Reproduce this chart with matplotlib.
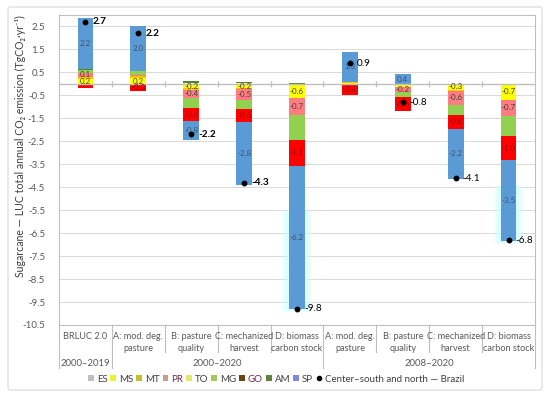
import numpy as np
import matplotlib
matplotlib.use("Agg")
import matplotlib.pyplot as plt
from matplotlib.patches import Patch, FancyBboxPatch, Rectangle
from matplotlib.lines import Line2D
import matplotlib.transforms as mtransforms

plt.rcParams['font.family'] = ['Lato', 'DejaVu Sans']

# ---------------- data ----------------
categories = ["BRLUC 2.0", "A: mod. deg.\npasture", "B: pasture\nquality",
              "C: mechanized\nharvest", "D: biomass\ncarbon stock",
              "A: mod. deg.\npasture", "B: pasture\nquality",
              "C: mechanized\nharvest", "D: biomass\ncarbon stock"]
periods = ["2000–2019", "2000–2020", "2008–2020"]
period_ranges = [(0, 0), (1, 4), (5, 8)]

series_names = ["ES", "MS", "MT", "PR", "TO", "MG", "GO", "AM", "SP"]
ES = [0, 0, 0, 0, 0, 0, 0, 0, 0]
MS = [0.22, 0.24, -0.2, -0.2, -0.62, 0.03, -0.12, -0.27, -0.68]
MT = [0.1, 0.1, -0.05, -0.03, 0, 0.05, 0, -0.03, 0]
PR = [0.14, 0.05, -0.38, -0.47, -0.72, -0.05, -0.22, -0.6, -0.72]
TO = [0, 0, 0.06, 0.05, 0, 0, 0, 0, 0]
MG = [0.14, 0.15, -0.4, -0.4, -1.1, 0, -0.25, -0.45, -0.88]
GO = [-0.2, -0.33, -0.58, -0.56, -1.12, -0.42, -0.6, -0.6, -1.04]
AM = [0.05, 0.03, 0.08, 0.05, 0.05, 0, 0, 0, 0]
SP = [2.24, 1.96, -0.84, -2.76, -6.24, 1.32, 0.42, -2.18, -3.52]
totals = [2.7, 2.2, -2.2, -4.3, -9.8, 0.9, -0.8, -4.1, -6.8]
yticks = [2.5, 1.5, 0.5, -0.5, -1.5, -2.5, -3.5, -4.5, -5.5, -6.5, -7.5, -8.5, -9.5, -10.5]

series_vals = [ES, MS, MT, PR, TO, MG, GO, AM, SP]
bar_colors = ["#A5A5A5", "#FFFF00", "#FFC000", "#FF7C80", "#FFFF99",
              "#92D050", "#FF0000", "#548235", "#5B9BD5"]
legend_colors = ["#BFBFBF", "#F2F22A", "#C4BE2E", "#C2A08C", "#E2E866",
                 "#A3C85E", "#6B4412", "#5F8040", "#8585E0"]
legend_text_colors = ["#404040", "#404040", "#404040", "#6A2A4A", "#404040",
                      "#404040", "#6A2A4A", "#404040", "#404040"]
labelled = {"MS": ("#404040", 0.13), "PR": ("#404040", 0.13),
            "GO": ("#A00000", 0.3), "SP": ("#3F5470", 0.13)}

# ---------------- figure ----------------
fig = plt.figure(figsize=(5.5, 3.99), dpi=100)
border = FancyBboxPatch((8 / 550, 9 / 399), 534 / 550, 383 / 399,
                        boxstyle="round,pad=0,rounding_size=0.005",
                        transform=fig.transFigure, facecolor="none",
                        edgecolor="#D9D9D9", linewidth=0.8, zorder=-5)
fig.patches.append(border)
ax = fig.add_axes([59 / 550, 1 - 325 / 399, (535 - 59) / 550, (325 - 15) / 399])
ax.set_facecolor("none")

x = np.arange(len(categories))
width = 0.3
ax.set_xlim(-0.5, len(categories) - 0.5)
ax.set_ylim(-10.5, 3.0)

# glow behind the D-bars (soft light cyan)
neg_cum = np.zeros(len(x))
for vals in series_vals:
    v = np.array(vals, dtype=float)
    neg_cum += np.where(v < 0, v, 0)
for i in [4, 8]:
    bottom = neg_cum[i]
    h = 0.7 * abs(SP[i])
    for k, a in zip([0.28, 0.2, 0.12], [0.25, 0.35, 0.45]):
        ax.add_patch(Rectangle((x[i] - width / 2 - k * 0.45, bottom - 0.12 * k / 0.28),
                               width + k * 0.9, h, facecolor="#CFFFFF",
                               edgecolor="none", alpha=a, zorder=1))

# gridlines
for t in yticks:
    ax.axhline(t, color="#D9D9D9", linewidth=0.7, zorder=0.5)

# stacked bars
pos_b = np.zeros(len(x))
neg_b = np.zeros(len(x))
for name, vals, col in zip(series_names, series_vals, bar_colors):
    v = np.array(vals, dtype=float)
    bottoms = np.where(v >= 0, pos_b, neg_b)
    ax.bar(x, v, width, bottom=bottoms, color=col, edgecolor="none", zorder=2)
    if name in labelled:
        tcol, thr = labelled[name]
        for xi, vi, bi in zip(x, v, bottoms):
            if abs(vi) >= thr:
                ax.text(xi, bi + vi / 2, f"{vi:.1f}", ha="center", va="center",
                        fontsize=5.8, color=tcol, zorder=4)
    pos_b += np.where(v >= 0, v, 0)
    neg_b += np.where(v < 0, v, 0)

# zero axis line with tick marks
ax.axhline(0, color="#BFBFBF", linewidth=1.0, zorder=3)
bounds = np.arange(-0.5, len(categories) + 0.5, 1.0)
ax.vlines(bounds[1:-1], -0.13, 0.13, color="#BFBFBF", linewidth=0.9, zorder=3)

# totals
for i, (xi, t) in enumerate(zip(x, totals)):
    ax.plot(xi, t, "o", color="black", markersize=3.2, zorder=5)
    ax.text(xi + 0.13, t, f"{t:.1f}", ha="left", va="center", fontsize=7.2,
            color="black", fontweight="bold" if i < 4 else "normal", zorder=5)

# axes styling
ax.set_yticks(yticks)
ax.set_yticklabels([f"{t:.1f}" for t in yticks], fontsize=7, color="#595959")
ax.tick_params(axis="y", length=0, pad=10)
ax.set_xticks([])
for s in ["top", "right", "bottom", "left"]:
    ax.spines[s].set_color("#BFBFBF")
    ax.spines[s].set_linewidth(0.8)
ax.set_ylabel("Sugarcane — LUC total annual CO₂ emission (TgCO₂·yr⁻¹)",
              fontsize=7.6, color="#404040")
ax.yaxis.set_label_coords(-33 / 476, (325 - 146) / 310)

# category labels
trans = mtransforms.blended_transform_factory(ax.transData, ax.transAxes)
for xi, c in zip(x, categories):
    ax.text(xi, -0.022, c, transform=trans, ha="center", va="top", fontsize=6.6,
            color="#595959", linespacing=1.4)
short = -27 / 310
long_ = -43 / 310
group_edges = {-0.5, 0.5, 4.5, 8.5}
for b in bounds:
    y1 = long_ if b in group_edges else short
    ax.plot([b, b], [0, y1], transform=trans, color="#BFBFBF", linewidth=0.8,
            clip_on=False)
for p, (a, b) in zip(periods, period_ranges):
    ax.text((a + b) / 2, -38 / 310, p, transform=trans, ha="center", va="center",
            fontsize=6.8, color="#595959")

# legend
handles = [Patch(facecolor=c, edgecolor="none") for c in legend_colors]
handles.append(Line2D([], [], marker="o", linestyle="none", color="black", markersize=3))
labels = series_names + ["Center–south and north — Brazil"]
leg = fig.legend(handles, labels, loc="center", bbox_to_anchor=(276 / 550, 1 - 379 / 399),
                 ncol=10, frameon=False, fontsize=7, handlelength=0.6,
                 handleheight=0.6, handletextpad=0.3, columnspacing=0.3)
for txt, col in zip(leg.get_texts(), legend_text_colors + ["#404040"]):
    txt.set_color(col)

fig.savefig("out.png", dpi=100)
